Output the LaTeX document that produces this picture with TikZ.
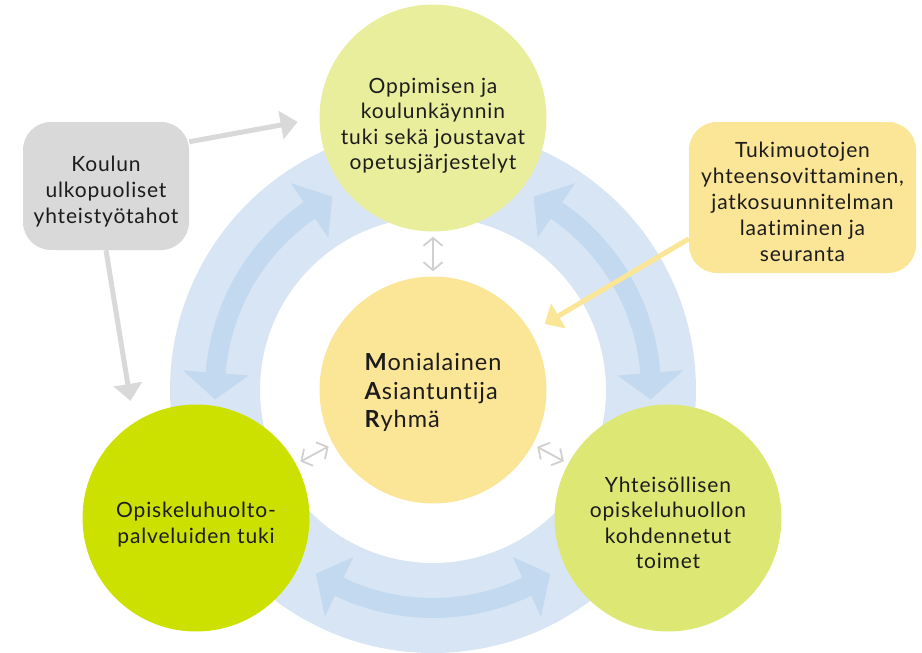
\documentclass[tikz,border=0pt]{standalone}
\usepackage{fontspec}
\setmainfont{Lato}[LetterSpace=4, Ligatures=NoCommon]
\usetikzlibrary{arrows.meta}
\definecolor{ringblue}{HTML}{D8E5F4}
\definecolor{arrowblue}{HTML}{C3D9F0}
\definecolor{topgreen}{HTML}{E8EE9C}
\definecolor{leftgreen}{HTML}{CCE100}
\definecolor{rightgreen}{HTML}{DDE774}
\definecolor{maryellow}{HTML}{FBE597}
\definecolor{boxgray}{HTML}{D9D9D9}
\definecolor{linkgray}{HTML}{D0D0D0}
\definecolor{textblack}{HTML}{1C1C1C}
% taller first line, pushes a text block down a little
\newcommand{\lift}[1][27pt]{\rule{0pt}{#1}}
% curved double arrow in the ring, tips at angles #1 < #2
\newcommand{\ringarrow}[2]{%
  \fill[arrowblue] (#1:218) -- ({#1+7}:251) -- ({#1+7}:228)
    arc[start angle={#1+7}, end angle={#2-7}, radius=228]
    -- ({#2-7}:251) -- (#2:218) -- ({#2-7}:185) -- ({#2-7}:208)
    arc[start angle={#2-7}, end angle={#1+7}, radius=208]
    -- ({#1+7}:185) -- cycle;}
\begin{document}
\begin{tikzpicture}[x=1pt, y=-1pt,
  circ/.style={circle, minimum size=227pt, inner sep=0pt, align=center,
    text=textblack, font=\fontsize{21}{25.5}\selectfont},
  box/.style={rounded corners=28pt, minimum width=#1, inner sep=0pt, align=center,
    text=textblack, font=\fontsize{21}{26}\selectfont},
  link/.style={draw=linkgray, line width=1.8pt, shorten <=5pt, shorten >=5pt,
    {Straight Barb[length=8pt, width=19pt]}-{Straight Barb[length=8pt, width=19pt]}},
  grayline/.style={draw=boxgray, line width=5pt, -{Triangle[length=17pt, width=28pt]}},
  yellowline/.style={draw=maryellow, line width=5pt, -{Triangle[length=16pt, width=28pt]}}]
  \useasboundingbox (0,0) rectangle (922,653);
  \coordinate (c) at (433,390);
  % ring
  \fill[ringblue, even odd rule] (c) circle[radius=263] (c) circle[radius=173];
  \begin{scope}[shift={(c)}, yscale=-1]
    \ringarrow{117.5}{182.5}
    \ringarrow{-2.5}{62.5}
    \ringarrow{237.5}{302.5}
  \end{scope}
  % circles
  \node[circ, fill=topgreen] (top) at (433,118) {\lift[31pt]Oppimisen ja\\koulunkäynnin\\tuki sekä joustavat\\opetusjärjestelyt};
  \node[circ, fill=maryellow, align=left, font=\fontsize{23.5}{28.5}\selectfont] (mar) at (433,390)
    {\lift[23pt]\textbf{M}onialainen\\\textbf{A}siantuntija\\\textbf{R}yhmä};
  \node[circ, fill=leftgreen] (left) at (196,518) {\lift[29pt]Opiskeluhuolto-\\palveluiden tuki};
  \node[circ, fill=rightgreen] (right) at (668,518) {\lift[25pt]Yhteisöllisen\\opiskeluhuollon\\kohdennetut\\toimet};
  % boxes
  \node[box=166pt, fill=boxgray, minimum height=128pt] (koulu) at (106,186)
    {\lift Koulun\\ulkopuoliset\\yhteistyötahot};
  \node[box=227pt, fill=maryellow, minimum height=151pt] (tuki) at (802.5,197.5)
    {\lift[25pt]Tukimuotojen\\yhteensovittaminen,\\jatkosuunnitelman\\laatiminen ja\\seuranta};
  % connectors
  \draw[link] (top) -- (mar);
  \draw[link] (mar) -- (left);
  \draw[link] (mar) -- (right);
  \draw[grayline, shorten >=22pt] (koulu.28) -- (top.west);
  \draw[grayline, shorten >=22pt] (koulu.south) -- (left.123);
  \draw[yellowline, shorten >=16pt] (tuki.200) -- (mar);
\end{tikzpicture}
\end{document}
